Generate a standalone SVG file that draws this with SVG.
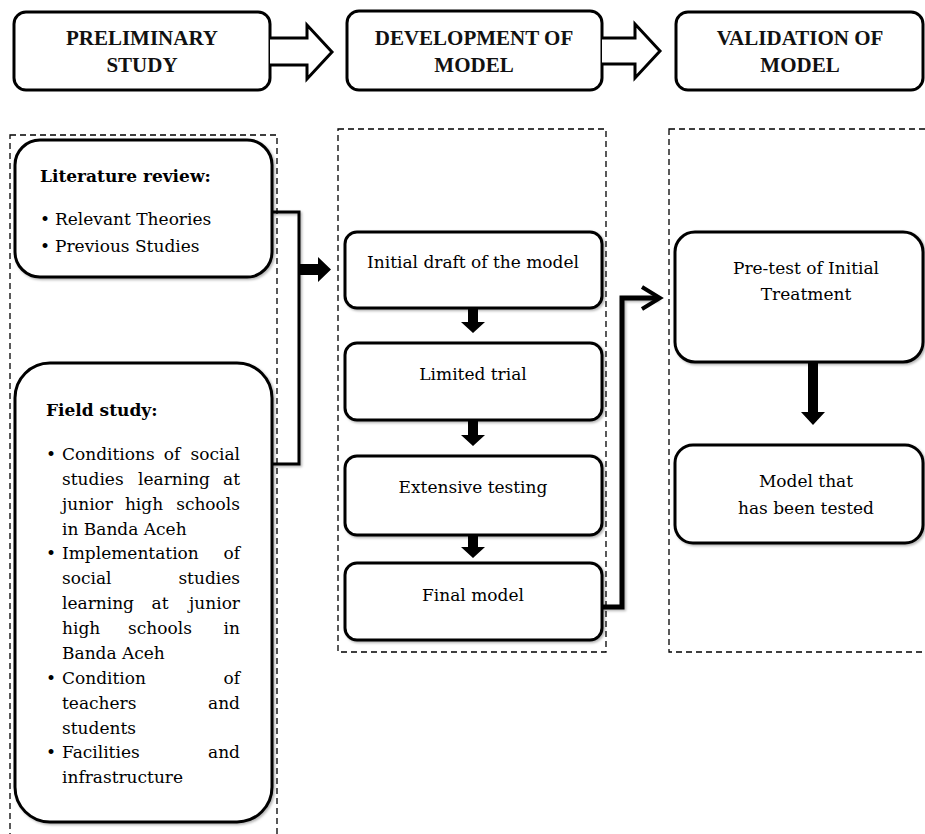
<svg xmlns="http://www.w3.org/2000/svg" width="925" height="834" viewBox="0 0 925 834">
<defs>
<filter id="sh" x="-10%" y="-10%" width="130%" height="130%">
<feDropShadow dx="1.5" dy="1.5" stdDeviation="1.2" flood-color="#000" flood-opacity="0.3"/>
</filter>
<style>
.box{fill:#fff;stroke:#000;stroke-width:3;}
.dash{fill:none;stroke:#000;stroke-width:1.3;stroke-dasharray:6 4;}
.hdr{font-family:"Liberation Serif","Times New Roman",serif;font-weight:bold;font-size:21px;text-anchor:middle;fill:#111;}
.t{font-family:"DejaVu Serif","Liberation Serif",serif;font-size:17px;fill:#000;}
.tb{font-family:"DejaVu Serif","Liberation Serif",serif;font-size:17px;font-weight:bold;fill:#000;}
.c{text-anchor:middle;}
.e{text-anchor:end;}
.hollow{fill:#fff;stroke:#000;stroke-width:3;stroke-linejoin:miter;}
.line{fill:none;stroke:#000;}
</style>
</defs>

<!-- dashed column frames -->
<g id="frames">
<rect class="dash" x="10" y="135" width="267" height="710"/>
<rect class="dash" x="338" y="129" width="268" height="523"/>
<rect class="dash" x="669" y="129" width="270" height="523"/>
</g>

<!-- header nodes -->
<g id="h-preliminary">
<rect class="box" x="14" y="12" width="256" height="78" rx="12"/>
<text class="hdr" x="142" y="45">PRELIMINARY</text>
<text class="hdr" x="142" y="72">STUDY</text>
</g>
<g id="h-development">
<rect class="box" x="347" y="11" width="255" height="79" rx="12"/>
<text class="hdr" x="474" y="45">DEVELOPMENT OF</text>
<text class="hdr" x="474" y="72">MODEL</text>
</g>
<g id="h-validation">
<rect class="box" x="676" y="12" width="247" height="78" rx="12"/>
<text class="hdr" x="800" y="45">VALIDATION OF</text>
<text class="hdr" x="800" y="72">MODEL</text>
</g>

<!-- left column -->
<g id="n-literature">
<rect class="box" x="15" y="140" width="257" height="137" rx="25" filter="url(#sh)"/>
<text class="tb" x="40" y="182">Literature review:</text>
<text class="t" x="40" y="225">•</text>
<text class="t" x="55" y="225">Relevant Theories</text>
<text class="t" x="40" y="252">•</text>
<text class="t" x="55" y="252">Previous Studies</text>
</g>

<g id="n-field">
<rect class="box" x="15" y="363" width="257" height="459" rx="35" filter="url(#sh)"/>
<text class="tb" x="46" y="416">Field study:</text>
<g class="t">
<text x="46" y="460">•</text>
<text x="62" y="460">Conditions</text><text class="c" x="172" y="460">of</text><text class="e" x="240" y="460">social</text>
<text x="62" y="485">studies</text><text class="c" x="174" y="485">learning</text><text class="e" x="240" y="485">at</text>
<text x="62" y="510">junior</text><text class="c" x="144" y="510">high</text><text class="e" x="240" y="510">schools</text>
<text x="62" y="535">in Banda Aceh</text>
<text x="46" y="559">•</text>
<text x="62" y="559">Implementation</text><text class="e" x="240" y="559">of</text>
<text x="62" y="584">social</text><text class="e" x="240" y="584">studies</text>
<text x="62" y="609">learning</text><text class="c" x="160" y="609">at</text><text class="e" x="240" y="609">junior</text>
<text x="62" y="634">high</text><text class="c" x="160" y="634">schools</text><text class="e" x="240" y="634">in</text>
<text x="62" y="659">Banda Aceh</text>
<text x="46" y="684">•</text>
<text x="62" y="684">Condition</text><text class="e" x="240" y="684">of</text>
<text x="62" y="709">teachers</text><text class="e" x="240" y="709">and</text>
<text x="62" y="734">students</text>
<text x="46" y="758">•</text>
<text x="62" y="758">Facilities</text><text class="e" x="240" y="758">and</text>
<text x="62" y="783">infrastructure</text>
</g>
</g>

<!-- middle column -->
<g id="n-initial">
<rect class="box" x="345" y="232" width="257" height="76" rx="12" filter="url(#sh)"/>
<text class="t c" x="473" y="268">Initial draft of the model</text>
</g>
<g id="n-limited">
<rect class="box" x="345" y="343" width="257" height="77" rx="12" filter="url(#sh)"/>
<text class="t c" x="473" y="380">Limited trial</text>
</g>
<g id="n-extensive">
<rect class="box" x="345" y="456" width="257" height="79" rx="12" filter="url(#sh)"/>
<text class="t c" x="473" y="493">Extensive testing</text>
</g>
<g id="n-final">
<rect class="box" x="345" y="563" width="257" height="77" rx="12" filter="url(#sh)"/>
<text class="t c" x="473" y="601">Final model</text>
</g>

<!-- right column -->
<g id="n-pretest">
<rect class="box" x="675" y="232" width="248" height="130" rx="20" filter="url(#sh)"/>
<text class="t c" x="806" y="274">Pre-test of Initial</text>
<text class="t c" x="806" y="300">Treatment</text>
</g>
<g id="n-tested">
<rect class="box" x="675" y="445" width="248" height="98" rx="18" filter="url(#sh)"/>
<text class="t c" x="806" y="487">Model that</text>
<text class="t c" x="806" y="514">has been tested</text>
</g>

<!-- connectors -->
<g id="connectors">
<path class="hollow" d="M270,38 H307 V25 L332,52 L307,79 V65 H270"/>
<path class="hollow" d="M602,38 H635 V24 L660,51 L635,78 V64 H602"/>
<path class="line" stroke-width="3" d="M272,212 H299 V464 H272" filter="url(#sh)"/>
<path d="M299,264 H318 V257 L331,269.5 L318,282 V275 H299 Z" fill="#000"/>
<path d="M468,308 H478 V322 H485 L473,333 L461,322 H468 Z" fill="#000"/>
<path d="M468,420 H478 V435 H485 L473,446 L461,435 H468 Z" fill="#000"/>
<path d="M468,535 H478 V547 H485 L473,558 L461,547 H468 Z" fill="#000"/>
<path class="line" stroke-width="5" d="M602,607 H622 V298 H658" filter="url(#sh)"/>
<path class="line" stroke-width="4" stroke-linejoin="miter" d="M642,287 L660,298 L642,309"/>
<path d="M808,362 H818 V412 H825 L813,425 L801,412 H808 Z" fill="#000"/>
</g>
</svg>
